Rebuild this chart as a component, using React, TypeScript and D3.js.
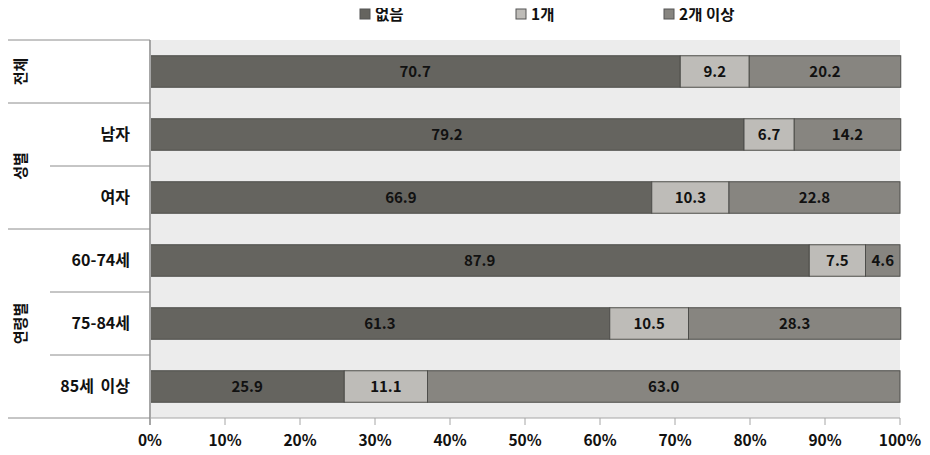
import React from "react";
import * as d3 from "d3";

const categories = ["전체", "남자", "여자", "60-74세", "75-84세", "85세 이상"];
const groups = [
  { name: "전체", start: 0, end: 1 },
  { name: "성별", start: 1, end: 3 },
  { name: "연령별", start: 3, end: 6 },
];
const seriesNames = ["없음", "1개", "2개 이상"];
const none = [70.7, 79.2, 66.9, 87.9, 61.3, 25.9];
const one = [9.2, 6.7, 10.3, 7.5, 10.5, 11.1];
const twoPlus = [20.2, 14.2, 22.8, 4.6, 28.3, 63.0];
const colors = ["#65645f", "#bebcb8", "#878580"];
const ticks = [0, 10, 20, 30, 40, 50, 60, 70, 80, 90, 100];

const W = 930, H = 455;
const left = 150, right = 900, top = 40, bottom = 418;
const font = "'Noto Sans CJK KR', 'Noto Sans', sans-serif";

export default function App() {
  const x = d3.scaleLinear().domain([0, 100]).range([left, right]);
  const y = d3.scaleBand<number>().domain(d3.range(categories.length)).range([top, bottom]).paddingInner(0.5).paddingOuter(0.25);
  const yRow = d3.scaleBand<number>().domain(d3.range(categories.length)).range([top, bottom]);
  const series = [none, one, twoPlus];
  const rows = categories.map((c, i) => {
    let acc = 0;
    return series.map((s, k) => {
      const v = s[i];
      const seg = { x0: acc, x1: acc + v, v, k };
      acc += v;
      return seg;
    });
  });
  const legendX = [360, 516, 664];
  return (
    <div style={{ margin: -8 }}>
      <svg width={W} height={H} style={{ display: "block", background: "#fff" }} fontFamily={font}>
        <rect x={left} y={top} width={right - left} height={bottom - top} fill="#ececec" />
        {/* legend */}
        {seriesNames.map((n, k) => (
          <g key={n}>
            <rect x={legendX[k]} y={9} width={10} height={10} fill={colors[k]} stroke="#555" strokeWidth={1} />
            <text x={legendX[k] + 15} y={19.5} fontSize={15.5} fontWeight={700} fill="#111">{n}</text>
          </g>
        ))}
        {/* bars */}
        {rows.map((segs, i) => (
          <g key={i}>
            {segs.map((s) => (
              <g key={s.k}>
                <rect x={x(s.x0)} y={y(i)} width={x(s.x1) - x(s.x0)} height={y.bandwidth()} fill={colors[s.k]} stroke="#4d4d4a" strokeWidth={1} />
                <text x={(x(s.x0) + x(s.x1)) / 2} y={y(i)! + y.bandwidth() / 2} dy="0.36em" textAnchor="middle" fontSize={15} fontWeight={700} fill="#111">{s.v.toFixed(1)}</text>
              </g>
            ))}
          </g>
        ))}
        {/* axis */}
        <line x1={left} x2={left} y1={top} y2={bottom + 7} stroke="#a6a6a6" strokeWidth={2} />
        <line x1={left} x2={right} y1={bottom} y2={bottom} stroke="#a6a6a6" strokeWidth={1} />
        {ticks.map((t) => (
          <g key={t}>
            <line x1={x(t)} x2={x(t)} y1={bottom} y2={bottom + 7} stroke="#a6a6a6" strokeWidth={1} />
            <text x={x(t)} y={446} textAnchor="middle" fontSize={15.5} fontWeight={700} fill="#111">{t}%</text>
          </g>
        ))}
        {/* left labels */}
        <line x1={0} x2={left} y1={top} y2={top} stroke="#8c8c8c" />
        {categories.map((c, i) => {
          const g = groups.find((gg) => gg.end === i + 1);
          const isGroupEnd = !!g;
          return (
            <g key={c}>
              <line x1={isGroupEnd ? 0 : 50} x2={left} y1={yRow(i)! + yRow.bandwidth()} y2={yRow(i)! + yRow.bandwidth()} stroke="#8c8c8c" />
              {i > 0 && (
                <text x={130} y={yRow(i)! + yRow.bandwidth() / 2} dy="0.36em" textAnchor="end" fontSize={16} fontWeight={700} fill="#111" style={{ wordSpacing: 3 }}>{c}</text>
              )}
            </g>
          );
        })}
        {groups.map((g) => {
          const cy = (yRow(g.start)! + yRow(g.end - 1)! + yRow.bandwidth()) / 2;
          return (
            <text key={g.name} transform={`translate(21,${cy}) rotate(-90)`} dy="0.36em" textAnchor="middle" fontSize={15} fontWeight={700} fill="#111">{g.name}</text>
          );
        })}
      </svg>
    </div>
  );
}
